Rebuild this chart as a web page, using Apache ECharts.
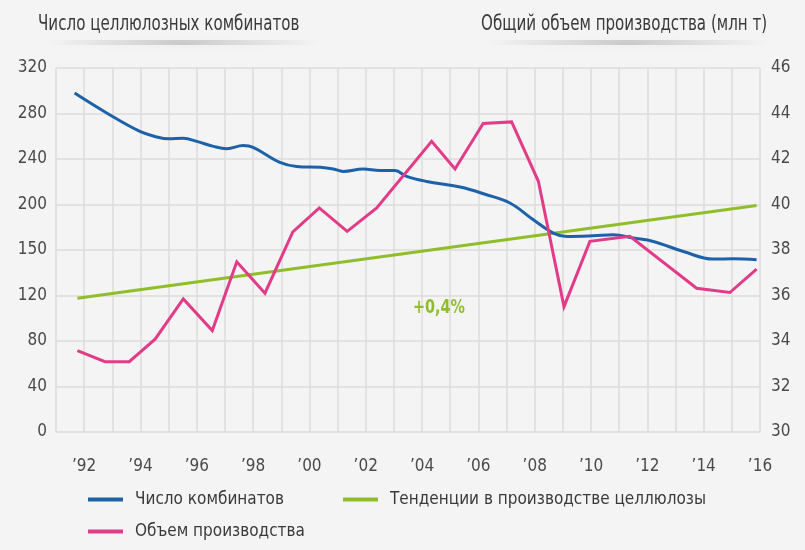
<!DOCTYPE html>
<html>
<head>
<meta charset="utf-8">
<script src="https://cdn.jsdelivr.net/npm/echarts@6/dist/echarts.min.js"></script>
<style>
  html, body { margin: 0; padding: 0; background: #f4f4f4; }
  #chart { width: 805px; height: 550px; }
</style>
</head>
<body>
<div id="chart"></div>
<script>
// ===== data =====

const leftTickLabels = ['0', '40', '80', '120', '150', '200', '240', '280', '320'];
const rightTickLabels = ['30', '32', '34', '36', '38', '40', '42', '44', '46'];
const yearTickLabels = ['’92', '’94', '’96', '’98', '’00', '’02', '’04', '’06', '’08', '’10', '’12', '’14', '’16'];

// number of pulp mills (left axis)
const millYears = [1991.66, 1992.8, 1993.98, 1994.58, 1994.99, 1995.52, 1996.0, 1996.59, 1997.06, 1997.65,
  1998.0, 1998.95, 1999.55, 2000.38, 2000.85, 2001.2, 2001.91, 2002.5, 2003.04, 2003.45,
  2004.16, 2005.35, 2006.29, 2007.12, 2007.95, 2008.66, 2009.14, 2010.08, 2010.79, 2011.5,
  2012.21, 2013.28, 2014.34, 2015.05, 2015.88];
const millCounts = [298, 280.5, 264.3, 259.4, 257.7, 258.2, 255.5, 251.1, 249.1, 251.8,
  250.3, 237.1, 233.5, 232.7, 231.2, 229.1, 231.2, 229.8, 229.8, 224.7,
  220.3, 215.4, 208.6, 201.3, 186.6, 174.9, 171.9, 172.5, 173.4, 170.5,
  167.5, 158.7, 152, 152.3, 151.4];

// total production, mln t (right axis)
const volumeYears = [1991.76, 1992.74, 1993.6, 1994.52, 1995.52, 1996.55, 1997.42, 1998.42, 1999.41, 2000.35,
  2001.34, 2002.39, 2004.34, 2005.17, 2006.17, 2007.18, 2008.13, 2009.04, 2009.96, 2011.38,
  2013.75, 2014.93, 2015.88];
const volumeValues = [33.58, 33.09, 33.09, 34.08, 35.85, 34.46, 37.48, 36.1, 38.8, 39.85,
  38.82, 39.85, 42.78, 41.56, 43.56, 43.63, 41.02, 35.51, 38.38, 38.6,
  36.32, 36.13, 37.16];

// trend line (right axis)
const trendYears = [1991.76, 2015.88];
const trendValues = [35.88, 39.96];
const trendLabel = '+0,4%';

const names = ['Число комбинатов', 'Объем производства', 'Тенденции в производстве целлюлозы'];
const titles = ['Число целлюлозных комбинатов', 'Общий объем производства (млн т)'];

// ===== chart =====

const FONT = "'Liberation Sans Narrow', 'DejaVu Sans Condensed', sans-serif";
const BLUE = '#1d62a8';
const PINK = '#e23c88';
const GREEN = '#8fbe2a';
const GRID = '#dcdcdc';
const TEXT = '#3a3a3a';

function pairs(xs, ys) {
  return xs.map((x, i) => [x, ys[i]]);
}

function titleShadow(x, w) {
  return {
    type: 'rect',
    shape: { x: x, y: 40, width: w, height: 5, r: 2.5 },
    style: {
      fill: {
        type: 'linear', x: 0, y: 0, x2: 1, y2: 0,
        colorStops: [
          { offset: 0, color: 'rgba(0,0,0,0)' },
          { offset: 0.5, color: 'rgba(0,0,0,0.16)' },
          { offset: 1, color: 'rgba(0,0,0,0)' }
        ]
      },
      shadowBlur: 7,
      shadowColor: 'rgba(0,0,0,0.2)',
      shadowOffsetY: 2
    },
    z: 0
  };
}

// condensed text drawn by squeezing a normal face horizontally
function squeezedText(text, x, y, size, color, weight) {
  return {
    type: 'text',
    x: x,
    y: y,
    scaleX: 0.8,
    style: {
      text: text,
      fill: color,
      font: (weight || 'normal') + ' ' + size + "px 'DejaVu Sans Condensed', sans-serif",
      textVerticalAlign: 'middle'
    },
    z: 10
  };
}

const myChart = echarts.init(document.getElementById('chart'));

const legendBase = {
  icon: 'rect',
  itemWidth: 35,
  itemHeight: 4,
  itemGap: 0,
  textStyle: { fontFamily: FONT, fontSize: 17, color: TEXT, padding: [0, 0, 0, 7] }
};

const option = {
  backgroundColor: '#f4f4f4',
  animation: false,
  textStyle: { fontFamily: FONT },
  legend: [
    Object.assign({}, legendBase, { data: [names[0]], left: 83, top: 486 }),
    Object.assign({}, legendBase, { data: [names[2]], left: 338, top: 486 }),
    Object.assign({}, legendBase, { data: [names[1]], left: 83, top: 518 })
  ],
  grid: { left: 56, right: 45, top: 68, bottom: 118 },
  xAxis: {
    type: 'value',
    min: 1991,
    max: 2016,
    interval: 1,
    axisLine: { show: false },
    axisTick: { show: false },
    splitLine: { show: true, lineStyle: { color: GRID, width: 1.5 } },
    axisLabel: {
      margin: 26,
      fontSize: 17,
      color: '#4a4a4a',
      fontFamily: FONT,
      formatter: v => (v - 1992) % 2 === 0 ? yearTickLabels[(v - 1992) / 2] || '' : ''
    }
  },
  yAxis: [
    {
      type: 'value',
      min: 0,
      max: 320,
      interval: 40,
      axisLine: { show: false },
      axisTick: { show: false },
      splitLine: { show: true, lineStyle: { color: GRID, width: 1.5 } },
      axisLabel: {
        margin: 9,
        fontSize: 17,
        color: '#4a4a4a',
        fontFamily: FONT,
        formatter: v => leftTickLabels[v / 40]
      }
    },
    {
      type: 'value',
      min: 30,
      max: 46,
      interval: 2,
      axisLine: { show: false },
      axisTick: { show: false },
      splitLine: { show: false },
      axisLabel: {
        margin: 11,
        fontSize: 17,
        color: '#4a4a4a',
        fontFamily: FONT,
        formatter: v => rightTickLabels[(v - 30) / 2]
      }
    }
  ],
  series: [
    {
      name: names[0],
      type: 'line',
      yAxisIndex: 0,
      data: pairs(millYears, millCounts),
      smooth: 0.4,
      symbol: 'none',
      lineStyle: { color: BLUE, width: 3 },
      itemStyle: { color: BLUE },
      z: 3
    },
    {
      name: names[2],
      type: 'line',
      yAxisIndex: 1,
      data: pairs(trendYears, trendValues),
      symbol: 'none',
      lineStyle: { color: GREEN, width: 3 },
      itemStyle: { color: GREEN },
      z: 2
    },
    {
      name: names[1],
      type: 'line',
      yAxisIndex: 1,
      data: pairs(volumeYears, volumeValues),
      symbol: 'none',
      lineStyle: { color: PINK, width: 3, join: 'miter' },
      itemStyle: { color: PINK },
      z: 4
    }
  ],
  graphic: [
    titleShadow(45, 275),
    titleShadow(485, 285),
    squeezedText(titles[0], 38, 25, 21, TEXT),
    squeezedText(titles[1], 481, 25, 21, TEXT),
    squeezedText(trendLabel, 413, 308, 20, GREEN, 'bold')
  ]
};

myChart.setOption(option);
window.addEventListener('resize', () => myChart.resize());
</script>
</body>
</html>
